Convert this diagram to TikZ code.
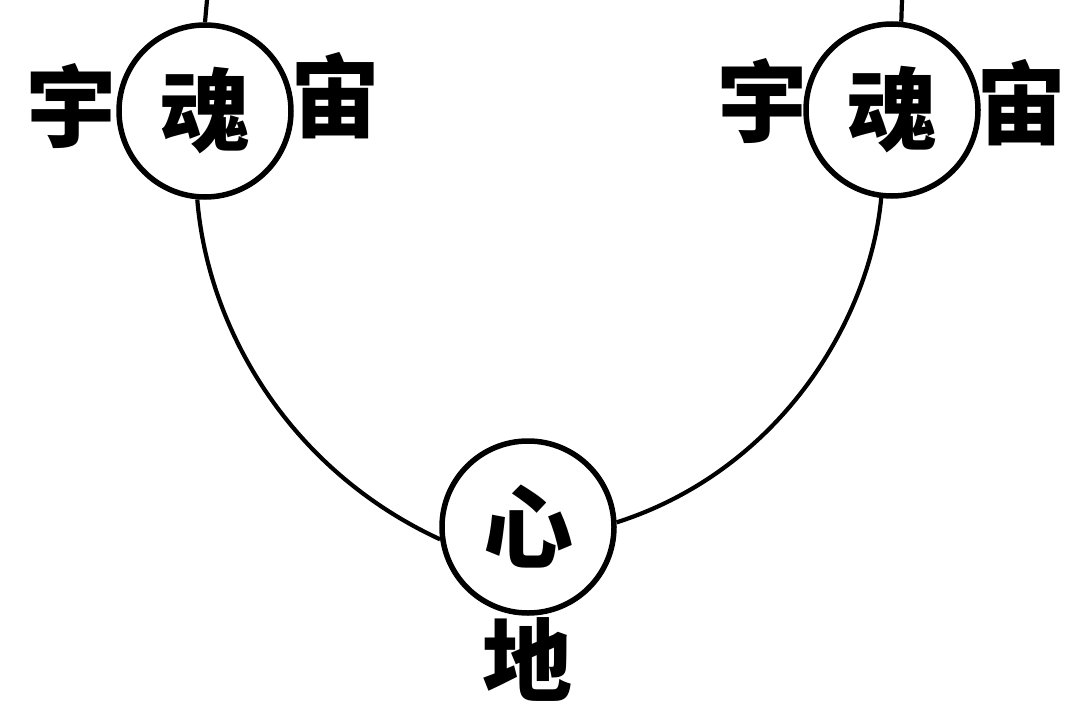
\documentclass[tikz,border=0pt]{standalone}
\usepackage{fontspec}
\newfontfamily\cjk{Noto Sans CJK SC}
\begin{document}
\begin{tikzpicture}[x=1pt,y=-1pt,
  ring/.style={circle,draw,line width=5.5pt,minimum size=172pt,inner sep=0pt},
  glyph/.style={font=\cjk\bfseries\fontsize{90}{90}\selectfont,inner sep=0pt},
  link/.style={line width=4.2pt}]
\useasboundingbox (0,0) rectangle (1068,704);
\node[ring] (L) at (205,111) {};
\node[ring] (R) at (892,110) {};
\node[ring] (B) at (528,527) {};
\node[glyph] (Lc) at (L) {魂};
\node[glyph] (Rc) at (R) {魂};
\node[glyph] (Bc) at (B) {心};
\node[glyph] (Lyu) at (72,106) {宇};
\node[glyph] (Lzhou) at (335,96) {宙};
\node[glyph] (Ryu) at (762,101) {宇};
\node[glyph] (Rzhou) at (1021,103) {宙};
\node[glyph] (Di) at (527,659) {地};
\coordinate (Ltop) at (207,0);
\coordinate (Rtop) at (902,0);
\draw[link] (Ltop) -- (L.north);
\draw[link] (Rtop) -- (R.84);
\draw[link] (L.-95) .. controls (208,330) and (290,470) .. (B.-172);
\draw[link] (R.-97) .. controls (870,320) and (780,470) .. (B.3);
\end{tikzpicture}
\end{document}
